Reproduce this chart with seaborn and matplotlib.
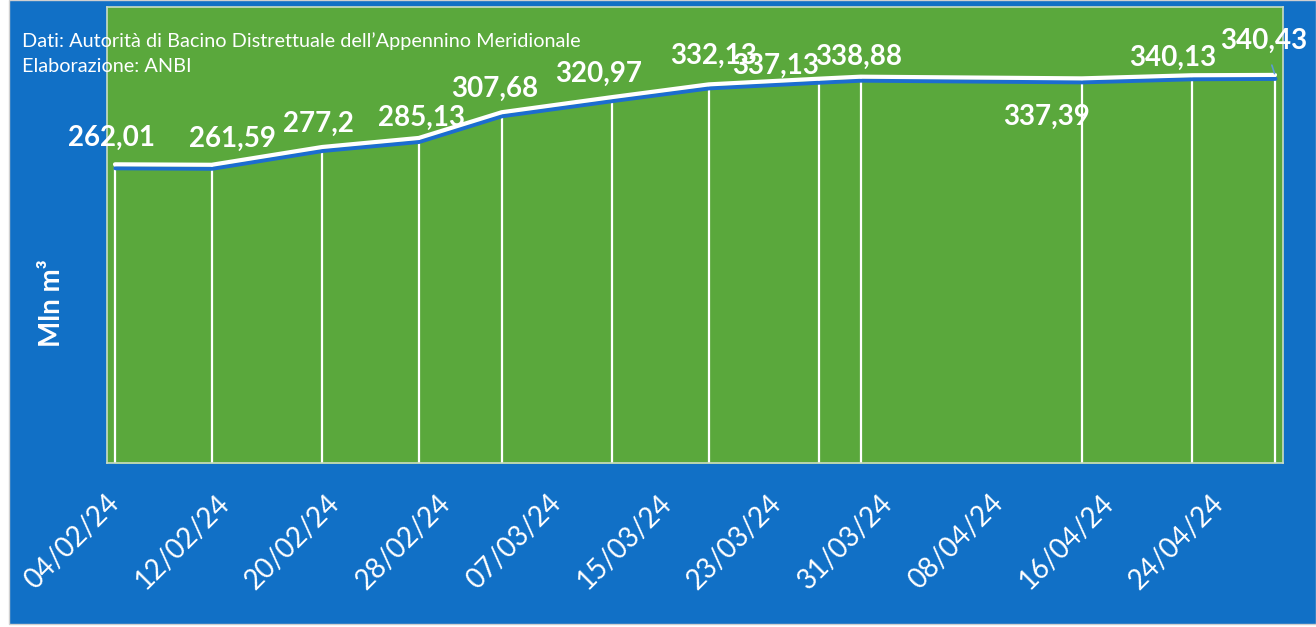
import matplotlib
matplotlib.use("Agg")
import matplotlib.pyplot as plt
import matplotlib.dates as mdates
import matplotlib.patheffects as pe
from matplotlib.patches import Rectangle
import pandas as pd
import seaborn as sns

# Survey dates and stored volumes (million m³)
dates = ["04/02/24", "11/02/24", "19/02/24", "26/02/24", "03/03/24", "11/03/24",
         "18/03/24", "26/03/24", "29/03/24", "14/04/24", "22/04/24", "28/04/24"]
volumes = [262.01, 261.59, 277.2, 285.13, 307.68, 320.97,
           332.13, 337.13, 338.88, 337.39, 340.13, 340.43]
tick_dates = ["04/02/24", "12/02/24", "20/02/24", "28/02/24", "07/03/24", "15/03/24",
              "23/03/24", "31/03/24", "08/04/24", "16/04/24", "24/04/24"]
source_lines = ["Dati: Autorità di Bacino Distrettuale dell’Appennino Meridionale",
                "Elaborazione: ANBI"]
y_label = "Mln m³"

# Label placement (pixel offsets from each point, baseline-anchored)
label_offsets = [(-4, 18), (21, 18), (-4, 15), (3, 12), (-7, 15), (-14, 15),
                 (5, 21), (-44, 5), (-2, 12), (-35, -46), (-19, 9), (-11, 26)]

BLUE = "#1170C6"
GREEN = "#5AA83C"
SHADOW = "#1C6DD0"
FONT = ["Lato", "DejaVu Sans"]

sns.set_theme(style="white")
plt.rcParams["font.family"] = FONT

df = pd.DataFrame({"data": pd.to_datetime(dates, format="%d/%m/%y"), "volume": volumes})
ticks = pd.to_datetime(tick_dates, format="%d/%m/%y")

W, H = 1316, 627
fig = plt.figure(figsize=(W / 100, H / 100), dpi=100, facecolor="white")
fig.patches.append(Rectangle((9 / W, 3 / H), 1 - 9 / W, 1 - 3 / H, transform=fig.transFigure,
                             facecolor=BLUE, edgecolor="#D0D0D0", lw=1, zorder=-5))

ax = fig.add_axes([107 / W, (H - 463) / H, (1283 - 107) / W, (463 - 7) / H])
ax.set_zorder(2)
ax.set_facecolor(GREEN)

# Area under the curve and drop lines to the baseline
ax.fill_between(df["data"], 0, df["volume"], color=GREEN, zorder=1)
ax.vlines(df["data"], 0, df["volume"], color="white", lw=1.6, zorder=2)

sns.lineplot(data=df, x="data", y="volume", ax=ax, color="white", lw=3.0,
             solid_capstyle="round", zorder=4,
             path_effects=[pe.SimpleLineShadow(offset=(0.3, -2.8), shadow_color=SHADOW, alpha=1),
                           pe.Normal()])

start = df["data"].iloc[0]
ax.set_xlim(start - pd.Timedelta(days=0.58), start + pd.Timedelta(days=84.58))
ax.set_ylim(0, 400)

# Value labels
n = len(volumes)
for i, (d, v, (dx, dy)) in enumerate(zip(df["data"], volumes, label_offsets)):
    txt = ("%g" % v).replace(".", ",")
    kw = dict(xy=(d, v), xytext=(dx, dy), textcoords="offset pixels", ha="center",
              va="baseline", color="white", fontsize=20, fontweight="bold", zorder=6)
    if i == n - 1:
        kw["arrowprops"] = dict(arrowstyle="-", color="#5B9BD5", lw=1.2, shrinkA=6, shrinkB=1)
    ax.annotate(txt, **kw)

# Axes styling
ax.set_xticks(ticks)
ax.xaxis.set_major_formatter(mdates.DateFormatter("%d/%m/%y"))
ax.tick_params(axis="x", length=0, pad=26, labelsize=20, labelcolor="white")
for lbl in ax.get_xticklabels():
    lbl.set_rotation(45)
    lbl.set_ha("right")
    lbl.set_va("center")
    lbl.set_rotation_mode("anchor")
ax.set_yticks([])
ax.set_xlabel("")
ax.set_ylabel(y_label, color="white", fontsize=20, fontweight="bold", va="center")
ax.yaxis.set_label_coords((52 - 107) / (1283 - 107), (463 - 303) / (463 - 7))
for s in ax.spines.values():
    s.set_color("#C9DCC4")
    s.set_linewidth(1.2)

# Source note
for k, line in enumerate(source_lines):
    fig.text(22 / W, 1 - (47 + 25.5 * k) / H, line, color="white", fontsize=14.3,
             ha="left", va="baseline", zorder=10)

fig.savefig("out.png", dpi=100, facecolor=fig.get_facecolor())
